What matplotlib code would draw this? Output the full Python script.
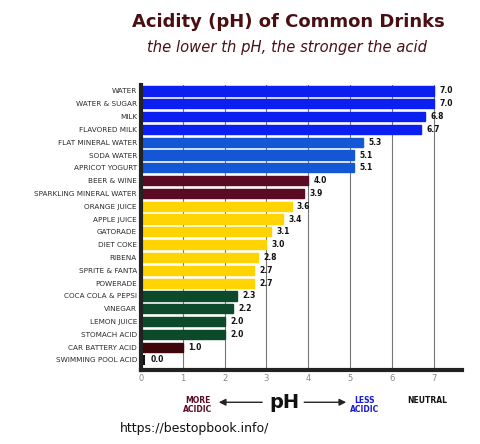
import matplotlib.pyplot as plt
import numpy as np

drinks = ["Water", "Water & Sugar", "Milk", "Flavored Milk", "Flat Mineral Water",
          "Soda Water", "Apricot Yogurt", "Beer & Wine", "Sparkling Mineral Water",
          "Orange Juice", "Apple Juice", "Gatorade", "Diet Coke", "Ribena",
          "Sprite & Fanta", "Powerade", "Coca Cola & Pepsi", "Vinegar",
          "Lemon Juice", "Stomach Acid", "Car Battery Acid", "Swimming Pool Acid"]
ph = [7.0, 7.0, 6.8, 6.7, 5.3, 5.1, 5.1, 4.0, 3.9, 3.6, 3.4, 3.1, 3.0, 2.8,
      2.7, 2.7, 2.3, 2.2, 2.0, 2.0, 1.0, 0.0]
groups = ["bright", "bright", "bright", "bright", "mid", "mid", "mid",
          "wine", "wine", "yellow", "yellow", "yellow", "yellow", "yellow",
          "yellow", "yellow", "green", "green", "green", "green", "dark", "black"]
group_colors = {"bright": "#0b1ff0", "mid": "#1457d6", "wine": "#5a0a22",
                "yellow": "#ffd400", "green": "#0d4a2b", "dark": "#3d0608",
                "black": "#111111"}
ticks = [0, 1, 2, 3, 4, 5, 6, 7]

fig = plt.figure(figsize=(4.8, 4.44), dpi=100)
ax = fig.add_axes([0.294, 0.1667, 0.6685, 0.642])

y = np.arange(len(drinks))
colors = [group_colors[g] for g in groups]
ax.barh(y, ph, height=0.72, color=colors, edgecolor=colors, zorder=2)
# swimming pool acid shown as a thin black stub
ax.barh(y[-1], 0.1, height=0.72, color="#111111", zorder=2)

for yi, v in zip(y, ph):
    ax.text(max(v, 0.1) + 0.13, yi, f"{v:.1f}", va="center", ha="left",
            fontsize=5.5, fontweight="bold", color="#111111", zorder=3)

ax.set_yticks(y)
ax.set_yticklabels([d.upper() for d in drinks], fontsize=5.2, color="#2a2a2a")
ax.set_ylim(len(drinks) - 1 + 0.78, -0.47)
ax.set_xlim(0, 7.68)
ax.set_xticks(ticks)
ax.set_xticklabels([str(t) for t in ticks], fontsize=6, color="#888888")
ax.tick_params(axis="both", length=0, pad=3)
ax.grid(axis="x", color="#777777", linewidth=0.8, zorder=1)
for s in ["top", "right"]:
    ax.spines[s].set_visible(False)
ax.spines["left"].set_linewidth(3)
ax.spines["bottom"].set_linewidth(3)
ax.spines["left"].set_color("#222222")
ax.spines["bottom"].set_color("#222222")

fig.text(0.6, 0.95, "Acidity (pH) of Common Drinks", ha="center", va="center",
         fontsize=13, fontweight="bold", color="#4a0f12")
fig.text(0.598, 0.892, "the lower th pH, the stronger the acid", ha="center",
         va="center", fontsize=10.6, style="italic", color="#4a0f12")

fig.text(0.412, 0.088, "MORE\nACIDIC", ha="center", va="center", fontsize=5.5,
         fontweight="bold", color="#5a0a22", linespacing=1.0)
fig.text(0.592, 0.094, "pH", ha="center", va="center", fontsize=14,
         fontweight="bold", color="#111111")
fig.text(0.76, 0.088, "LESS\nACIDIC", ha="center", va="center", fontsize=5.5,
         fontweight="bold", color="#1a1ad0", linespacing=1.0)
fig.text(0.89, 0.097, "NEUTRAL", ha="center", va="center", fontsize=5.5,
         fontweight="bold", color="#111111")
fig.patches.append(plt.matplotlib.patches.FancyArrowPatch(
    (0.552, 0.094), (0.45, 0.094), transform=fig.transFigure,
    arrowstyle="-|>,head_length=4,head_width=2", color="#222222", lw=1))
fig.patches.append(plt.matplotlib.patches.FancyArrowPatch(
    (0.628, 0.094), (0.727, 0.094), transform=fig.transFigure,
    arrowstyle="-|>,head_length=4,head_width=2", color="#222222", lw=1))
fig.text(0.25, 0.036, "https://bestopbook.info/", ha="left", va="center",
         fontsize=9, color="#111111")

plt.savefig("out.png", dpi=100)
